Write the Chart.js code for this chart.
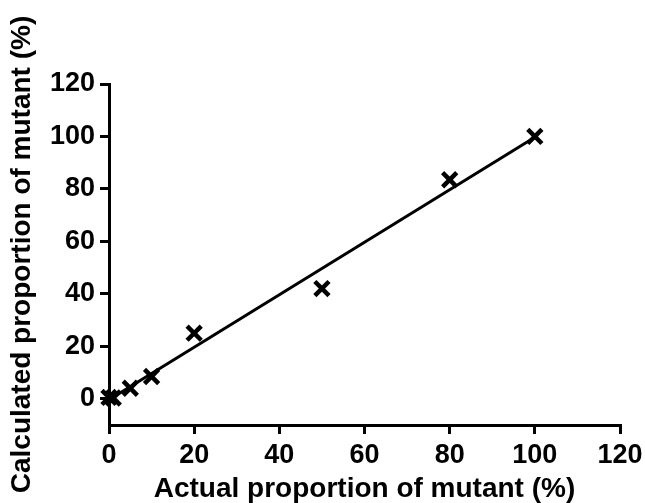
<!DOCTYPE html>
<html>
<head>
<meta charset="utf-8">
<script src="https://cdn.jsdelivr.net/npm/chart.js@4"></script>
<style>
  html, body { margin: 0; padding: 0; background: #fff; }
  #wrap { width: 645px; height: 503px; }
</style>
</head>
<body>
<div id="wrap"><canvas id="chart"></canvas></div>
<script>
// measured points: actual vs calculated mutant proportion
var actual = [0, 1, 5, 10, 20, 50, 80, 100];
var calculated = [0.5, 0.3, 4, 8.5, 25, 42, 83.5, 100];

// fitted line end points
var fitX = [0, 100];
var fitY = [-0.4, 99.7];

var xTicks = [0, 20, 40, 60, 80, 100, 120];
var yTicks = [0, 20, 40, 60, 80, 100, 120];

var black = '#000';
var face = 'Liberation Sans, Arial, sans-serif';

function fixTicks(list) {
    return function (axis) {
        axis.ticks = list.map(function (v) { return { value: v }; });
    };
}

var ctx = document.getElementById("chart").getContext("2d");
var chart = new Chart(ctx, {
    type: 'scatter',
    data: {
        datasets: [{
            label: 'Fit',
            type: 'line',
            data: fitX.map(function (x, i) { return { x: x, y: fitY[i] }; }),
            borderColor: black,
            borderWidth: 3,
            pointRadius: 0,
            fill: false,
            clip: false
        }, {
            label: 'Samples',
            data: actual.map(function (x, i) { return { x: x, y: calculated[i] }; }),
            pointStyle: 'crossRot',
            pointRadius: 10,
            pointBorderWidth: 4.5,
            borderColor: black,
            backgroundColor: black,
            clip: false
        }]
    },
    options: {
        responsive: true,
        maintainAspectRatio: false,
        animation: false,
        layout: { padding: { left: 0, top: 84, right: 25, bottom: 0 } },
        plugins: {
            legend: { display: false },
            tooltip: { enabled: false }
        },
        scales: {
            x: {
                type: 'linear',
                min: 0,
                max: 120,
                afterBuildTicks: fixTicks(xTicks),
                afterFit: function (s) {
                    s.height = 78;
                    // let the outer labels run into the page margin
                    s.paddingLeft = 0;
                    s.paddingRight = 0;
                },
                border: { display: true, color: black, width: 3 },
                grid: { drawOnChartArea: false, drawTicks: true, tickLength: 9, color: black, lineWidth: 3 },
                ticks: {
                    color: black,
                    padding: 5,
                    maxRotation: 0,
                    font: { family: face, size: 27, weight: 'bold' }
                },
                title: {
                    display: true,
                    text: 'Actual proportion of mutant (%)',
                    color: black,
                    padding: { top: 0, bottom: 0 },
                    font: { family: face, size: 28, weight: 'bold', lineHeight: 1 }
                }
            },
            y: {
                type: 'linear',
                min: -10,
                max: 120,
                afterBuildTicks: fixTicks(yTicks),
                afterFit: function (s) { s.width = 109; },
                border: { display: true, color: black, width: 3 },
                grid: { drawOnChartArea: false, drawTicks: true, tickLength: 9, color: black, lineWidth: 3 },
                ticks: {
                    color: black,
                    padding: 5,
                    font: { family: face, size: 27, weight: 'bold' }
                },
                title: {
                    display: true,
                    text: 'Calculated proportion of mutant (%)',
                    color: black,
                    padding: { top: 8, bottom: 0 },
                    font: { family: face, size: 28, weight: 'bold', lineHeight: 1 }
                }
            }
        }
    }
});
</script>
</body>
</html>
